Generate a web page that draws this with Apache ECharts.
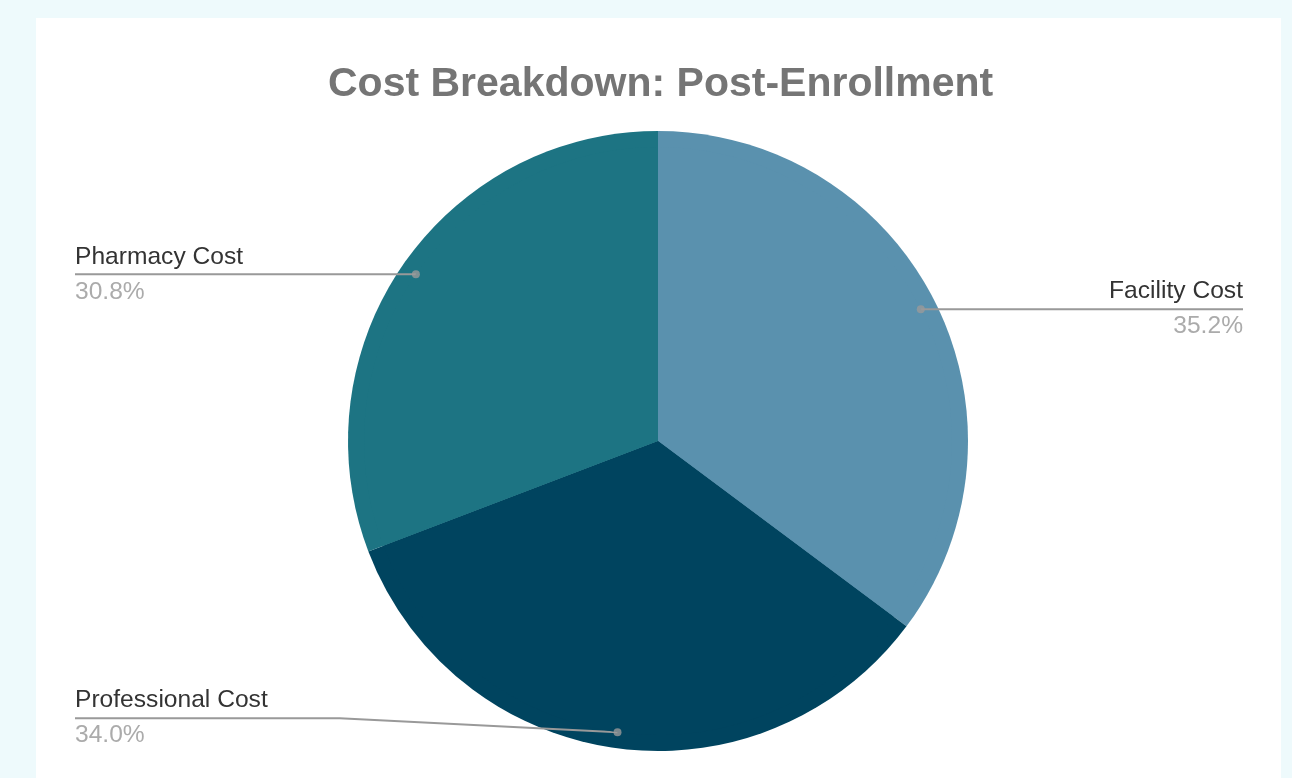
<!DOCTYPE html>
<html>
<head>
<meta charset="utf-8">
<script src="https://cdn.jsdelivr.net/npm/echarts@6/dist/echarts.min.js"></script>
<style>
  html, body { margin: 0; padding: 0; width: 1292px; height: 778px; background: #EEFAFC; overflow: hidden; }
  #panel { position: absolute; left: 36px; top: 18px; width: 1245px; height: 760px; background: #ffffff; }
  #chart { position: absolute; left: 0; top: 0; width: 1292px; height: 778px; }
</style>
</head>
<body>
<div id="panel"></div>
<div id="chart"></div>
<script>
const titleText = 'Cost Breakdown: Post-Enrollment';
const categories = ['Facility Cost', 'Professional Cost', 'Pharmacy Cost'];
const values = [35.2, 34.0, 30.8];
const colors = ['#5A91AE', '#00445F', '#1D7483'];

const total = values.reduce((a, b) => a + b, 0);
let acc = 0;
const midAngles = values.map(v => { const m = acc + v / 2; acc += v; return m; });

const pieData = categories.map((c, i) => ({ name: c, value: values[i], itemStyle: { color: colors[i] } }));

const CX = 658, CY = 441, R = 310, RA = 294;
const SERIES_LEFT = 65, SERIES_RIGHT = 39;
// per-label vertical nudge (Professional label sits above its anchor)
const labelNudge = [0, -14, 0];

const chart = echarts.init(document.getElementById('chart'), null, { renderer: 'canvas' });
chart.setOption({
  backgroundColor: 'transparent',
  animation: false,
  title: {
    text: titleText,
    left: 323,
    top: 59,
    textStyle: { fontFamily: 'Liberation Sans, Arial, sans-serif', fontSize: 41, fontWeight: 'bold', color: '#757575' }
  },
  polar: { center: [CX, CY], radius: R },
  angleAxis: { type: 'value', min: 0, max: total, startAngle: 90, clockwise: true, show: false },
  radiusAxis: { type: 'value', min: 0, max: 1, show: false },
  series: [
    {
      type: 'pie',
      silent: true,
      z: 1,
      left: SERIES_LEFT, right: SERIES_RIGHT, top: 0, bottom: 0,
      center: [CX - SERIES_LEFT, CY],
      radius: R,
      startAngle: 90,
      clockwise: true,
      label: { show: false },
      labelLine: { show: false },
      emphasis: { disabled: true },
      data: pieData
    },
    {
      type: 'pie',
      silent: true,
      z: 5,
      left: SERIES_LEFT, right: SERIES_RIGHT, top: 0, bottom: 0,
      center: [CX - SERIES_LEFT, CY],
      radius: RA,
      startAngle: 90,
      clockwise: true,
      itemStyle: { color: 'rgba(0,0,0,0)' },
      emphasis: { disabled: true },
      label: {
        show: true,
        position: 'outer',
        alignTo: 'edge',
        edgeDistance: 10,
        formatter: function (p) { return '{n|' + p.name + '}\n{p|' + p.percent.toFixed(1) + '%}'; },
        rich: {
          n: { fontFamily: 'Liberation Sans, Arial, sans-serif', fontSize: 24.6, color: '#333333', lineHeight: 35 },
          p: { fontFamily: 'Liberation Sans, Arial, sans-serif', fontSize: 24.6, color: '#ABABAB', lineHeight: 35 }
        }
      },
      labelLine: { show: true, length: 0, length2: 10, lineStyle: { color: '#999999', width: 2 } },
      labelLayout: function (params) {
        const pts = params.labelLinePoints;
        const rect = params.labelRect;
        if (!pts || !rect) return {};
        const dy = labelNudge[params.dataIndex] || 0;
        const p0 = pts[0];
        const leftSide = rect.x + rect.width / 2 < p0[0];
        const farX = leftSide ? rect.x : rect.x + rect.width;
        const lineY = rect.y + rect.height / 2 + dy;
        let linePts;
        if (dy !== 0) {
          const bendX = leftSide ? rect.x + rect.width + 72 : rect.x - 72;
          linePts = [p0, [bendX, lineY], [farX, lineY]];
        } else {
          linePts = [p0, [farX, lineY]];
        }
        return { dy: dy, labelLinePoints: linePts };
      },
      data: pieData
    },
    {
      type: 'scatter',
      coordinateSystem: 'polar',
      silent: true,
      symbol: 'circle',
      symbolSize: 8,
      itemStyle: { color: '#9A9A9A' },
      z: 10,
      data: midAngles.map(a => [RA / R, a])
    }
  ]
});
</script>
</body>
</html>
